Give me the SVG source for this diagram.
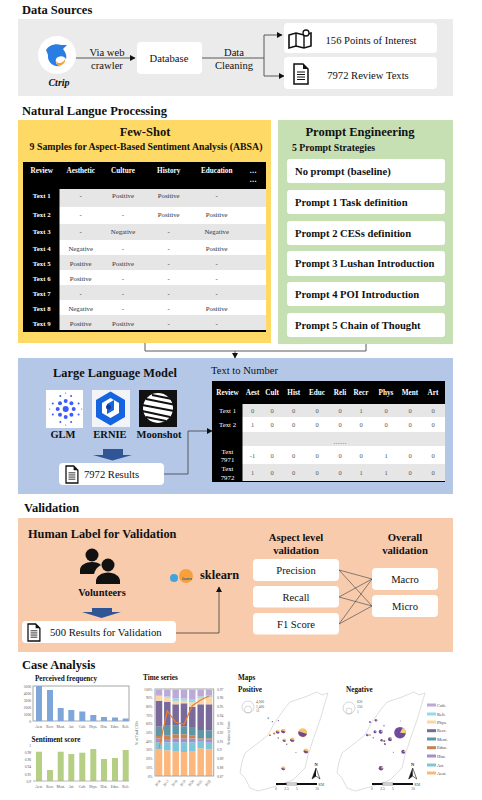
<svg xmlns="http://www.w3.org/2000/svg" xmlns:xlink="http://www.w3.org/1999/xlink" width="482" height="800" viewBox="0 0 482 800">
<style>
text{font-family:"Liberation Serif","Times New Roman",serif;fill:#111}
.b{font-weight:bold}
.h{font-weight:bold;font-size:12.5px}
.m{text-anchor:middle}
.box{fill:#fff}
.t9{font-size:10.6px}
.pr{font-weight:bold;font-size:10.6px}
.th{font-weight:bold;font-size:7.2px;fill:#fff;text-anchor:middle}
.rh{font-size:6.8px;font-weight:bold;fill:#fff;text-anchor:middle}
.c{font-size:6.8px;fill:#333;text-anchor:middle}
.th2{font-weight:bold;font-size:7.2px;fill:#fff;text-anchor:middle}
.rh2{font-size:6.8px;fill:#fff;text-anchor:middle}
.n{font-size:6.5px;fill:#555;text-anchor:middle}
.ln{fill:none;stroke:#595959;stroke-width:1}
.lb{fill:none;stroke:#404040;stroke-width:.8}
.tk{font-size:3.6px;fill:#555}
.tkm{font-size:3.6px;fill:#555;text-anchor:middle}
.tke{font-size:3.6px;fill:#555;text-anchor:end}
.ct{font-weight:bold;font-size:7.2px}
.frame{fill:none;stroke:#a6a6a6;stroke-width:1}
.bl{fill:#7ea6d8}.gr{fill:#b5cf85}
.ae{fill:#fcb77c}.ar{fill:#7fc5d9}.hi{fill:#a58fc7}.ed{fill:#c8844f}.me{fill:#5f95a5}.re{fill:#7a6a9a}.ph{fill:#fcd5a5}.rl{fill:#9ad8e5}.cu{fill:#bcaad6}
.isl{fill:none;stroke:#d0d0d0;stroke-width:.7;stroke-linejoin:round}
.leg{font-size:4.5px;fill:#444}
.blk{fill:#2f5597}
.ic{fill:#111}
</style>
<defs>
<marker id="ah" markerWidth="6" markerHeight="6" refX="5" refY="3" orient="auto" markerUnits="userSpaceOnUse"><path d="M0,0L5.5,3L0,6Z" fill="#111"/></marker>
<g id="doc"><path d="M0,0H9L14,5V20H0Z" fill="#fff" stroke="#111" stroke-width="1.5"/><path d="M9,0V5H14Z" fill="#111"/><path d="M3,8H11M3,10.5H11M3,13H11M3,15.5H11" stroke="#111" stroke-width="1"/></g>
<g id="pp"><circle r="1" fill="#f8c26c"/><path d="M-.95,-.3A1,1 0 0 0 .95,.3Z" fill="#6a4a96"/></g>
<g id="pn"><circle r="1" fill="#6f4c9b"/><path d="M0,0L.5,-.87A1,1 0 0 1 1,.1Z" fill="#f8d07c"/></g>
<g id="isl"><path class="isl" d="M328,693L325,703L320,720L313,740L308,755L305,768L293,780L273,787L258,791L250,788L245,778L240,773L242,762L245,753L258,743L268,735L275,722L285,708L290,702L305,697L317,692L322,695Z"/></g>
<g id="scale"><rect x="0" y="-1" width="10.500" height="2" fill="#111"/><rect x="10.500" y="-1" width="10.500" height="2" fill="#fff" stroke="#111" stroke-width=".4"/><rect x="21" y="-1" width="20" height="2" fill="#111"/><text class="tkm" x="0" y="6">0</text><text class="tkm" x="10.500" y="6">2.5</text><text class="tkm" x="21" y="6">5</text><text class="tkm" x="41" y="6">10</text><text class="tk" x="42.500" y="1.500">KM</text></g>
<g id="north"><text class="tkm b" x="0" y="-7" style="font-size:4.500px;fill:#111">N</text><path d="M0,-5L-4,6L0,3L4,6Z" fill="#fff" stroke="#111" stroke-width=".6"/><path d="M0,-5L-4,6L0,3Z" fill="#111"/></g>
</defs>

<text class="h" x="22" y="14">Data Sources</text>
<rect x="18" y="19" width="435" height="77" fill="#ebebeb"/>
<text class="h" x="22" y="115">Natural Langue Processing</text>
<text class="h" x="24" y="512">Validation</text>
<text class="h" x="22" y="669">Case Analysis</text>

<rect x="18" y="120" width="253" height="223" fill="#ffd966"/>
<rect x="278" y="120" width="175" height="224" fill="#c6e0b4"/>
<rect x="18" y="358" width="435" height="136" fill="#b4c7e7"/>
<rect x="18" y="518" width="435" height="134" fill="#f8cbad"/>

<g id="connectors">
<path class="ln" d="M76,58H135" marker-end="url(#ah)"/>
<path class="ln" d="M202,58H264V35H282" marker-end="url(#ah)"/>
<path class="ln" d="M264,58V76H284" marker-end="url(#ah)"/>
<path class="ln" d="M145,343V351H366V344"/>
<path class="ln" d="M235,351V358" marker-end="url(#ah)"/>
<path class="lb" d="M164,474H188V431H212" marker-end="url(#ah)"/>
<path class="lb" d="M176,633H219V587" marker-end="url(#ah)"/>
<path class="lb" style="stroke-width:.6" d="M339,570L372,579M339,570L372,606M339,597L372,579M339,597L372,606M339,624L372,579M339,624L372,606"/>
</g>

<g id="ctrip">
<circle cx="57" cy="55" r="19" fill="#fff"/>
<path d="M46,50C49,45 56,43 61,45L67,45L63,49C66,53 67,56 66,59C63,55 58,56 56,59C55,63 57,66 61,66C53,68 47,61 48,55Z" fill="#2a7de1"/>
<path d="M56,61C58,64 63,64 65,59C66,63 61,67 57,65Z" fill="#f5a033"/>
<text class="b m" x="59" y="86" style="font-size:10px;font-style:italic">Ctrip</text>
</g>
<text class="m t9" x="107" y="56">Via web</text>
<text class="m t9" x="107" y="69">crawler</text>
<text class="m t9" x="234" y="56">Data</text>
<text class="m t9" x="234" y="69">Cleaning</text>
<g id="database"><rect class="box" x="137" y="42" width="65" height="32" rx="4"/><text class="m t9" x="169" y="62">Database</text></g>
<g id="poi"><rect class="box" x="284" y="23" width="153" height="30" rx="4"/>
<path d="M289,35L296,33L304,35L311,33V46L304,48L296,46L289,48Z" style="fill:none;stroke:#111;stroke-width:1.600"/><path d="M296,33V46M304,35V48" stroke="#111" stroke-width="1.400"/><circle cx="306" cy="33" r="3" fill="#fff" stroke="#111" stroke-width="1.300"/>
<text class="m t9" x="371" y="44">156 Points of Interest</text></g>
<g id="reviews"><rect class="box" x="284" y="57" width="153" height="32" rx="4"/><use xlink:href="#doc" href="#doc" x="294" y="64"/><text class="m t9" x="368" y="79">7972 Review Texts</text></g>

<g id="few-shot">
<text class="b m" x="145" y="136" style="font-size:12.500px">Few-Shot</text>
<text class="b m" x="146" y="150" style="font-size:9.800px">9 Samples for Aspect-Based Sentiment Analysis (ABSA)</text>
<rect x="23" y="162" width="243" height="170" fill="#000"/>
<rect x="59.500" y="189" width="206.500" height="18" fill="#e6e6e6"/>
<rect x="59.500" y="207" width="206.500" height="17" fill="#fff"/>
<rect x="59.500" y="224" width="206.500" height="16" fill="#e6e6e6"/>
<rect x="59.500" y="240" width="206.500" height="15" fill="#fff"/>
<rect x="59.500" y="255" width="206.500" height="15" fill="#e6e6e6"/>
<rect x="59.500" y="270" width="206.500" height="15" fill="#fff"/>
<rect x="59.500" y="285" width="206.500" height="15" fill="#e6e6e6"/>
<rect x="59.500" y="300" width="206.500" height="15" fill="#fff"/>
<rect x="59.500" y="315" width="206.500" height="15" fill="#e6e6e6"/>
<text class="th" x="41.700" y="173">Review</text><text class="th" x="80.700" y="173">Aesthetic</text><text class="th" x="123" y="173">Culture</text><text class="th" x="168.700" y="173">History</text><text class="th" x="216.700" y="173">Education</text><text class="th" x="253" y="173">…</text><text class="th" x="253" y="182">…</text>
<g id="rows1">
<text class="rh" x="41.700" y="198">Text 1</text><text class="c" x="80.700" y="198">-</text><text class="c" x="123" y="198">Positive</text><text class="c" x="168.700" y="198">Positive</text><text class="c" x="216.700" y="198">-</text>
<text class="rh" x="41.700" y="217">Text 2</text><text class="c" x="80.700" y="217">-</text><text class="c" x="123" y="217">-</text><text class="c" x="168.700" y="217">Positive</text><text class="c" x="216.700" y="217">Positive</text>
<text class="rh" x="41.700" y="234">Text 3</text><text class="c" x="80.700" y="234">-</text><text class="c" x="123" y="234">Negative</text><text class="c" x="168.700" y="234">-</text><text class="c" x="216.700" y="234">Negative</text>
<text class="rh" x="41.700" y="250.500">Text 4</text><text class="c" x="80.700" y="250.500">Negative</text><text class="c" x="123" y="250.500">-</text><text class="c" x="168.700" y="250.500">-</text><text class="c" x="216.700" y="250.500">Positive</text>
<text class="rh" x="41.700" y="265.500">Text 5</text><text class="c" x="80.700" y="265.500">Positive</text><text class="c" x="123" y="265.500">Positive</text><text class="c" x="168.700" y="265.500">-</text><text class="c" x="216.700" y="265.500">-</text>
<text class="rh" x="41.700" y="280.500">Text 6</text><text class="c" x="80.700" y="280.500">Positive</text><text class="c" x="123" y="280.500">-</text><text class="c" x="168.700" y="280.500">-</text><text class="c" x="216.700" y="280.500">-</text>
<text class="rh" x="41.700" y="295.500">Text 7</text><text class="c" x="80.700" y="295.500">-</text><text class="c" x="123" y="295.500">-</text><text class="c" x="168.700" y="295.500">-</text><text class="c" x="216.700" y="295.500">-</text>
<text class="rh" x="41.700" y="310.500">Text 8</text><text class="c" x="80.700" y="310.500">Negative</text><text class="c" x="123" y="310.500">-</text><text class="c" x="168.700" y="310.500">-</text><text class="c" x="216.700" y="310.500">Positive</text>
<text class="rh" x="41.700" y="325.500">Text 9</text><text class="c" x="80.700" y="325.500">Positive</text><text class="c" x="123" y="325.500">Positive</text><text class="c" x="168.700" y="325.500">-</text><text class="c" x="216.700" y="325.500">-</text>
</g>
</g>

<g id="prompt-engineering">
<text class="b m" x="360" y="136" style="font-size:12.500px">Prompt Engineering</text>
<text class="b" x="292" y="151" style="font-size:9.800px">5 Prompt Strategies</text>
<rect class="box" x="287" y="159" width="158" height="24" rx="3"/><text class="pr" x="295" y="175">No prompt (baseline)</text>
<rect class="box" x="287" y="190" width="158" height="24" rx="3"/><text class="pr" x="295" y="206">Prompt 1 Task definition</text>
<rect class="box" x="287" y="221" width="158" height="24" rx="3"/><text class="pr" x="295" y="236.500">Prompt 2 CESs definition</text>
<rect class="box" x="287" y="251" width="158" height="25" rx="3"/><text class="pr" x="295" y="267">Prompt 3 Lushan Introduction</text>
<rect class="box" x="287" y="282" width="158" height="24" rx="3"/><text class="pr" x="295" y="298">Prompt 4 POI Introduction</text>
<rect class="box" x="287" y="313" width="158" height="24" rx="3"/><text class="pr" x="295" y="329">Prompt 5 Chain of Thought</text>
</g>

<g id="llm">
<text class="b m" x="115" y="377" style="font-size:12.400px">Large Language Model</text>
<g id="glm-logo"><rect x="46" y="390" width="37" height="38" fill="#fff"/>
<g fill="#3d5afe"><circle cx="65.700" cy="409" r="3"/>
<circle cx="73.700" cy="409" r="2"/><circle cx="71.400" cy="414.700" r="2"/><circle cx="65.700" cy="417" r="2"/><circle cx="60" cy="414.700" r="2"/><circle cx="57.700" cy="409" r="2"/><circle cx="60" cy="403.300" r="2"/><circle cx="65.700" cy="401" r="2"/><circle cx="71.400" cy="403.300" r="2"/>
<circle cx="78.600" cy="414.400" r="1"/><circle cx="71.100" cy="421.900" r="1"/><circle cx="60.300" cy="421.900" r="1"/><circle cx="52.800" cy="414.400" r="1"/><circle cx="52.800" cy="403.600" r="1"/><circle cx="60.300" cy="396.100" r="1"/><circle cx="71.100" cy="396.100" r="1"/><circle cx="78.600" cy="403.600" r="1"/>
<circle cx="81.700" cy="409" r=".6"/><circle cx="65.700" cy="425" r=".6"/><circle cx="49.700" cy="409" r=".6"/><circle cx="65.700" cy="393" r=".6"/></g></g>
<g id="ernie-logo"><rect x="92" y="390" width="38" height="37" fill="#f2f4f8"/>
<path d="M110.500,391.500L125,400V417L110.500,425.500L96,417V400Z" fill="#1565e0"/>
<path d="M110.500,398L119,403V413L110.500,418L102,413V403Z" fill="#fff"/>
<path d="M107,404L114,400V410L107,414Z" fill="#1565e0"/><circle cx="108.500" cy="407" r="2.500" fill="#123a9c"/></g>
<g id="moonshot-logo"><rect x="139" y="390" width="38" height="37" fill="#111"/><circle cx="158" cy="408" r="15" fill="#fff"/>
<path d="M146,399L176,405M142,405L174,411M142,411L170,417M146,417L166,421M152,395L172,399" stroke="#111" stroke-width="1.800"/></g>
<text class="b m" x="63" y="438" style="font-size:10.500px">GLM</text>
<text class="b m" x="110" y="438" style="font-size:10.500px">ERNIE</text>
<text class="b m" x="159" y="438" style="font-size:10.500px">Moonshot</text>
<path class="blk" d="M103,449H123V455H132L112.500,460.500L93,455H103Z"/>
</g>
<g id="results-7972"><rect class="box" x="59" y="463" width="105" height="22" rx="4"/><use xlink:href="#doc" href="#doc" transform="translate(66,466) scale(.85)"/><text x="84" y="478" style="font-size:10.600px">7972 Results</text></g>

<g id="text-to-number">
<text x="211" y="374" style="font-size:10.600px">Text to Number</text>
<rect x="212" y="381" width="233" height="101" fill="#000"/>
<rect x="242.500" y="404" width="202.500" height="13" fill="#e6e6e6"/>
<rect x="242.500" y="417" width="202.500" height="15" fill="#fff"/>
<rect x="242.500" y="432" width="202.500" height="14" fill="#e6e6e6"/>
<rect x="242.500" y="446" width="202.500" height="18" fill="#fff"/>
<rect x="242.500" y="464" width="202.500" height="17" fill="#e6e6e6"/>
<text class="th2" x="227.500" y="395">Review</text><text class="th2" x="252.500" y="395">Aest</text><text class="th2" x="272" y="395">Cult</text><text class="th2" x="293.700" y="395">Hist</text><text class="th2" x="317" y="395">Educ</text><text class="th2" x="340" y="395">Reli</text><text class="th2" x="361" y="395">Recr</text><text class="th2" x="386" y="395">Phys</text><text class="th2" x="410" y="395">Ment</text><text class="th2" x="433" y="395">Art</text>
<text class="rh2" x="227.500" y="413">Text 1</text><text class="n" x="252.500" y="413">0</text><text class="n" x="272" y="413">0</text><text class="n" x="293.700" y="413">0</text><text class="n" x="317" y="413">0</text><text class="n" x="340" y="413">0</text><text class="n" x="361" y="413">1</text><text class="n" x="386" y="413">0</text><text class="n" x="410" y="413">0</text><text class="n" x="433" y="413">0</text>
<text class="rh2" x="227.500" y="427">Text 2</text><text class="n" x="252.500" y="427">1</text><text class="n" x="272" y="427">0</text><text class="n" x="293.700" y="427">0</text><text class="n" x="317" y="427">0</text><text class="n" x="340" y="427">0</text><text class="n" x="361" y="427">0</text><text class="n" x="386" y="427">0</text><text class="n" x="410" y="427">0</text><text class="n" x="433" y="427">0</text>
<text class="n" x="340" y="443.500">……</text>
<text class="rh2" x="227.500" y="453.500">Text</text><text class="rh2" x="227.500" y="462">7971</text><text class="n" x="252.500" y="458">-1</text><text class="n" x="272" y="458">0</text><text class="n" x="293.700" y="458">0</text><text class="n" x="317" y="458">0</text><text class="n" x="340" y="458">0</text><text class="n" x="361" y="458">0</text><text class="n" x="386" y="458">1</text><text class="n" x="410" y="458">0</text><text class="n" x="433" y="458">0</text>
<text class="rh2" x="227.500" y="471">Text</text><text class="rh2" x="227.500" y="479.500">7972</text><text class="n" x="252.500" y="475">1</text><text class="n" x="272" y="475">0</text><text class="n" x="293.700" y="475">0</text><text class="n" x="317" y="475">0</text><text class="n" x="340" y="475">0</text><text class="n" x="361" y="475">1</text><text class="n" x="386" y="475">1</text><text class="n" x="410" y="475">0</text><text class="n" x="433" y="475">0</text>
</g>

<g id="human-label">
<text class="b" x="28" y="538" style="font-size:12.300px">Human Label for Validation</text>
<g class="ic"><circle cx="92" cy="555" r="6.500"/><path d="M80,574V570C80,565 86,562 92,562C96,562 99,563 101,565C97,567 95,570 94,574Z"/><circle cx="108" cy="565" r="6.500"/><path d="M96,584V581C96,576 102,572.500 108,572.500C114,572.500 120,576 120,581V584Z"/></g>
<text class="b m" x="102" y="596" style="font-size:10.400px">Volunteers</text>
<path class="blk" d="M92,608H112V612H121L101.500,618L82,612H92Z"/>
</g>
<g id="results-500"><rect class="box" x="22" y="621" width="154" height="22" rx="4"/><use xlink:href="#doc" href="#doc" transform="translate(28,624) scale(.85)"/><text x="50" y="636" style="font-size:10.700px">500 Results for Validation</text></g>
<g id="sklearn"><circle cx="174" cy="578" r="4" fill="#3ea4d9"/><circle cx="186" cy="576" r="7" fill="#f7a13c"/><text class="m" x="187" y="580" style="font-size:4.500px;font-style:italic;font-weight:bold;fill:#2c5f88">learn</text><text class="b" x="200" y="579" style="font-size:12.400px">sklearn</text></g>
<g id="aspect-level">
<text class="b m" x="296" y="541" style="font-size:10.700px">Aspect level</text><text class="b m" x="296" y="554" style="font-size:10.700px">validation</text>
<rect class="box" x="253" y="559" width="86" height="22" rx="4"/><text class="m t9" x="296" y="574">Precision</text>
<rect class="box" x="253" y="586" width="86" height="21.500" rx="4"/><text class="m t9" x="296" y="601">Recall</text>
<rect class="box" x="253" y="613" width="86" height="21.500" rx="4"/><text class="m t9" x="296" y="628">F1 Score</text>
</g>
<g id="overall">
<text class="b m" x="405" y="541" style="font-size:10.700px">Overall</text><text class="b m" x="405" y="554" style="font-size:10.700px">validation</text>
<rect class="box" x="372" y="568" width="66" height="22" rx="4"/><text class="m t9" x="405" y="583">Macro</text>
<rect class="box" x="372" y="595" width="66" height="22" rx="4"/><text class="m t9" x="405" y="610">Micro</text>
</g>

<g id="perceived-frequency">
<text class="ct m" x="66" y="681">Perceived frequency</text>
<rect class="frame" x="33" y="686" width="96" height="35"/>
<text class="tke" x="31" y="687.500">5000</text><text class="tke" x="31" y="694.500">4000</text><text class="tke" x="31" y="701.500">3000</text><text class="tke" x="31" y="708.500">2000</text><text class="tke" x="31" y="715.500">1000</text><text class="tke" x="31" y="722.500">0</text>
<rect class="bl" x="36" y="686" width="6" height="35"/><rect class="bl" x="47" y="690" width="6" height="31"/><rect class="bl" x="57.700" y="708" width="6" height="13"/><rect class="bl" x="68.300" y="710" width="6" height="11"/><rect class="bl" x="79.300" y="711.500" width="6" height="9.500"/><rect class="bl" x="90.300" y="715" width="6" height="6"/><rect class="bl" x="101" y="717" width="6" height="4"/><rect class="bl" x="112" y="717.500" width="6" height="3.500"/><rect class="bl" x="122.700" y="718.500" width="6" height="2.500"/>
<text class="tkm" x="39" y="728">Aest.</text><text class="tkm" x="50" y="728">Recr.</text><text class="tkm" x="60.700" y="728">Ment.</text><text class="tkm" x="71.300" y="728">Art.</text><text class="tkm" x="82.300" y="728">Cult.</text><text class="tkm" x="93.300" y="728">Phys.</text><text class="tkm" x="104" y="728">Hist.</text><text class="tkm" x="115" y="728">Educ.</text><text class="tkm" x="125.700" y="728">Reli.</text>
</g>
<g id="sentiment-score">
<text class="ct m" x="56" y="742">Sentiment score</text>
<rect class="gr" x="36" y="751.700" width="6" height="29.300"/><rect class="gr" x="47" y="770" width="6" height="11"/><rect class="gr" x="57.700" y="751.700" width="6" height="29.300"/><rect class="gr" x="68.300" y="754" width="6" height="27"/><rect class="gr" x="79.300" y="752.700" width="6" height="28.300"/><rect class="gr" x="90.300" y="749" width="6" height="32"/><rect class="gr" x="101" y="759" width="6" height="22"/><rect class="gr" x="112" y="758" width="6" height="23"/><rect class="gr" x="122.700" y="750" width="6" height="31"/>
<path d="M33,781H129" stroke="#a6a6a6" stroke-width=".8"/>
<text class="tke" x="31" y="746.500">1</text><text class="tke" x="31" y="753.500">0.98</text><text class="tke" x="31" y="761">0.96</text><text class="tke" x="31" y="768">0.94</text><text class="tke" x="31" y="775.500">0.92</text><text class="tke" x="31" y="782.500">0.9</text>
<text class="tkm" x="39" y="788">Aest.</text><text class="tkm" x="50" y="788">Recr.</text><text class="tkm" x="60.700" y="788">Ment.</text><text class="tkm" x="71.300" y="788">Art.</text><text class="tkm" x="82.300" y="788">Cult.</text><text class="tkm" x="93.300" y="788">Phys.</text><text class="tkm" x="104" y="788">Hist.</text><text class="tkm" x="115" y="788">Educ.</text><text class="tkm" x="125.700" y="788">Reli.</text>
</g>

<g id="time-series">
<text class="ct" x="143" y="680">Time series</text>
<g transform="translate(155.750,0)">
<rect class="ae" y="749" width="6.500" height="27"/><rect class="ar" y="742.300" width="6.500" height="6.700"/><rect class="hi" y="738.300" width="6.500" height="4"/><rect class="ed" y="736" width="6.500" height="2.300"/><rect class="me" y="726.700" width="6.500" height="9.300"/><rect class="re" y="700.700" width="6.500" height="26"/><rect class="ph" y="696" width="6.500" height="4.700"/><rect class="rl" y="695" width="6.500" height="1"/><rect class="cu" y="689.700" width="6.500" height="5.300"/></g>
<g transform="translate(164.050,0)">
<rect class="ae" y="750.300" width="6.500" height="25.700"/><rect class="ar" y="742.300" width="6.500" height="8"/><rect class="hi" y="739" width="6.500" height="3.300"/><rect class="ed" y="735.700" width="6.500" height="3.300"/><rect class="me" y="725" width="6.500" height="10.700"/><rect class="re" y="701.700" width="6.500" height="23.300"/><rect class="ph" y="697.700" width="6.500" height="4"/><rect class="rl" y="696.300" width="6.500" height="1.400"/><rect class="cu" y="689.700" width="6.500" height="6.600"/></g>
<g transform="translate(172.450,0)">
<rect class="ae" y="751" width="6.500" height="25"/><rect class="ar" y="742.300" width="6.500" height="8.700"/><rect class="hi" y="738.300" width="6.500" height="4"/><rect class="ed" y="734.300" width="6.500" height="4"/><rect class="me" y="725.700" width="6.500" height="8.600"/><rect class="re" y="704.300" width="6.500" height="21.400"/><rect class="ph" y="701" width="6.500" height="3.300"/><rect class="rl" y="698.300" width="6.500" height="2.700"/><rect class="cu" y="689.700" width="6.500" height="8.600"/></g>
<g transform="translate(180.750,0)">
<rect class="ae" y="752" width="6.500" height="24"/><rect class="ar" y="742.300" width="6.500" height="9.700"/><rect class="hi" y="738.300" width="6.500" height="4"/><rect class="ed" y="734.300" width="6.500" height="4"/><rect class="me" y="726.300" width="6.500" height="8"/><rect class="re" y="703.300" width="6.500" height="23"/><rect class="ph" y="700.700" width="6.500" height="2.600"/><rect class="rl" y="698.300" width="6.500" height="2.400"/><rect class="cu" y="689.700" width="6.500" height="8.600"/></g>
<g transform="translate(189.050,0)">
<rect class="ae" y="751" width="6.500" height="25"/><rect class="ar" y="742.300" width="6.500" height="8.700"/><rect class="hi" y="738.300" width="6.500" height="4"/><rect class="ed" y="735.700" width="6.500" height="2.600"/><rect class="me" y="727" width="6.500" height="8.700"/><rect class="re" y="706.700" width="6.500" height="20.300"/><rect class="ph" y="702.300" width="6.500" height="4.400"/><rect class="rl" y="699.700" width="6.500" height="2.600"/><rect class="cu" y="689.700" width="6.500" height="10"/></g>
<g transform="translate(197.450,0)">
<rect class="ae" y="748.300" width="6.500" height="27.700"/><rect class="ar" y="741.700" width="6.500" height="6.600"/><rect class="hi" y="739.700" width="6.500" height="2"/><rect class="ed" y="738.300" width="6.500" height="1.400"/><rect class="me" y="730" width="6.500" height="8.300"/><rect class="re" y="704.300" width="6.500" height="25.700"/><rect class="ph" y="698.300" width="6.500" height="6"/><rect class="rl" y="696.300" width="6.500" height="2"/><rect class="cu" y="689.700" width="6.500" height="6.600"/></g>
<g transform="translate(205.750,0)">
<rect class="ae" y="749.300" width="6.500" height="26.700"/><rect class="ar" y="742.700" width="6.500" height="6.600"/><rect class="hi" y="739.700" width="6.500" height="3"/><rect class="ed" y="738.300" width="6.500" height="1.400"/><rect class="me" y="730.300" width="6.500" height="8"/><rect class="re" y="704.300" width="6.500" height="26"/><rect class="ph" y="697" width="6.500" height="7.300"/><rect class="rl" y="695.700" width="6.500" height="1.300"/><rect class="cu" y="689.700" width="6.500" height="6"/></g>
<rect class="frame" x="155" y="689" width="58.700" height="87"/>
<path d="M159,748.300L167.300,711L175.700,722.300L184,724.300L192.300,705.700L200.700,700L209,696" fill="none" stroke="#ed7d31" stroke-width="1.200"/>
<text class="tke" x="152.500" y="690.500">100%</text><text class="tke" x="152.500" y="699">90%</text><text class="tke" x="152.500" y="707.900">80%</text><text class="tke" x="152.500" y="716.600">70%</text><text class="tke" x="152.500" y="725.300">60%</text><text class="tke" x="152.500" y="734">50%</text><text class="tke" x="152.500" y="742.700">40%</text><text class="tke" x="152.500" y="751.400">30%</text><text class="tke" x="152.500" y="760.100">20%</text><text class="tke" x="152.500" y="768.800">10%</text><text class="tke" x="152.500" y="777.500">0%</text>
<text class="tk" x="217" y="690.500">0.97</text><text class="tk" x="217" y="699">0.96</text><text class="tk" x="217" y="707.900">0.95</text><text class="tk" x="217" y="716.600">0.94</text><text class="tk" x="217" y="725.300">0.93</text><text class="tk" x="217" y="734">0.92</text><text class="tk" x="217" y="742.700">0.91</text><text class="tk" x="217" y="751.400">0.9</text><text class="tk" x="217" y="760.100">0.89</text><text class="tk" x="217" y="768.800">0.88</text><text class="tk" x="217" y="777.500">0.87</text>
<text class="tkm" transform="translate(138,733) rotate(-90)">% of Total CESs</text>
<text class="tkm" transform="translate(230,733) rotate(-90)">Sentiment Score</text>
<text class="tke" transform="translate(161,781) rotate(-50)">2016</text><text class="tke" transform="translate(169.300,781) rotate(-50)">2017</text><text class="tke" transform="translate(177.700,781) rotate(-50)">2018</text><text class="tke" transform="translate(186,781) rotate(-50)">2019</text><text class="tke" transform="translate(194.300,781) rotate(-50)">2020</text><text class="tke" transform="translate(202.700,781) rotate(-50)">2021</text><text class="tke" transform="translate(211,781) rotate(-50)">2022</text>
</g>

<g id="map-positive">
<text class="ct" x="238" y="680">Maps</text>
<text class="ct" x="238" y="692">Positive</text>
<circle cx="248" cy="707" r="6" fill="none" stroke="#bbb" stroke-width=".6"/><circle cx="248" cy="709.500" r="3.500" fill="none" stroke="#bbb" stroke-width=".6"/>
<text class="tk" x="256" y="703">4,000</text><text class="tk" x="256" y="707.500">1,400</text><text class="tk" x="256" y="712">11</text>
<use xlink:href="#isl" href="#isl"/>
<use xlink:href="#pp" href="#pp" transform="translate(302.700,732.700) scale(4.500)"/>
<use xlink:href="#pp" href="#pp" transform="translate(306,751) scale(2.500)"/>
<use xlink:href="#pp" href="#pp" transform="translate(292.300,739.700) scale(2.300)"/>
<use xlink:href="#pp" href="#pp" transform="translate(283.300,768.300) scale(2)"/>
<use xlink:href="#pp" href="#pp" transform="translate(283.300,731) scale(2.300)"/>
<use xlink:href="#pp" href="#pp" transform="translate(277.700,731.700) scale(2)"/>
<use xlink:href="#pp" href="#pp" transform="translate(284.300,740.300) scale(1.700)"/>
<use xlink:href="#pp" href="#pp" transform="translate(274.300,733.300) scale(1.100)"/>
<use xlink:href="#pp" href="#pp" transform="translate(270,735) scale(1)"/>
<use xlink:href="#pp" href="#pp" transform="translate(278.300,737.700) scale(.8)"/>
<use xlink:href="#pp" href="#pp" transform="translate(286.700,744) scale(.8)"/>
<use xlink:href="#pp" href="#pp" transform="translate(296,752.300) scale(.6)"/>
<circle cx="268.300" cy="718.300" r="1" fill="#8ab0d8"/><circle cx="278.300" cy="720.700" r=".6" fill="#6a4a96"/><circle cx="272.300" cy="721.700" r=".6" fill="#6a4a96"/>
<use xlink:href="#scale" href="#scale" x="276" y="784"/>
<use xlink:href="#north" href="#north" x="316" y="773"/>
</g>
<g id="map-negative">
<text class="ct" x="346" y="692">Negative</text>
<circle cx="349" cy="708" r="6" fill="none" stroke="#bbb" stroke-width=".6"/><circle cx="349" cy="711" r="3" fill="none" stroke="#bbb" stroke-width=".6"/>
<text class="tk" x="357" y="703">630</text><text class="tk" x="357" y="708">150</text><text class="tk" x="357" y="713">1</text>
<use xlink:href="#isl" href="#isl" x="97"/>
<use xlink:href="#pn" href="#pn" transform="translate(400,732.700) scale(5.800)"/>
<use xlink:href="#pn" href="#pn" transform="translate(403.300,751.700) scale(2)"/>
<use xlink:href="#pn" href="#pn" transform="translate(381,768.300) scale(2.300)"/>
<use xlink:href="#pn" href="#pn" transform="translate(390,739.300) scale(2)"/>
<use xlink:href="#pn" href="#pn" transform="translate(380.700,731.700) scale(2)"/>
<use xlink:href="#pn" href="#pn" transform="translate(375,731.700) scale(1.500)"/>
<use xlink:href="#pn" href="#pn" transform="translate(381.700,740.300) scale(1.300)"/>
<use xlink:href="#pn" href="#pn" transform="translate(385,744) scale(1)"/>
<use xlink:href="#pn" href="#pn" transform="translate(384.300,741) scale(1)"/>
<use xlink:href="#pn" href="#pn" transform="translate(367.300,735) scale(1.300)"/>
<use xlink:href="#pn" href="#pn" transform="translate(370,735) scale(.7)"/>
<use xlink:href="#pn" href="#pn" transform="translate(373.300,737.700) scale(.7)"/>
<use xlink:href="#pn" href="#pn" transform="translate(376,720.300) scale(1.300)"/>
<use xlink:href="#pn" href="#pn" transform="translate(370,722) scale(1)"/>
<use xlink:href="#pn" href="#pn" transform="translate(384,725.700) scale(.7)"/>
<use xlink:href="#pn" href="#pn" transform="translate(393.300,752.300) scale(.5)"/>
<use xlink:href="#pn" href="#pn" transform="translate(400.700,721) scale(.4)"/>
<use xlink:href="#scale" href="#scale" x="372" y="784"/>
<use xlink:href="#north" href="#north" x="412.700" y="773"/>
</g>
<g id="legend">
<rect class="cu" x="427" y="703.500" width="9" height="3"/><text class="leg" x="437" y="706.500">Cult.</text>
<rect class="rl" x="427" y="712.500" width="9" height="3"/><text class="leg" x="437" y="715.500">Reli.</text>
<rect class="ph" x="427" y="720.500" width="9" height="3"/><text class="leg" x="437" y="723.500">Phys.</text>
<rect class="re" x="427" y="729.200" width="9" height="3"/><text class="leg" x="437" y="732.200">Recr.</text>
<rect class="me" x="427" y="737.500" width="9" height="3"/><text class="leg" x="437" y="740.500">Ment.</text>
<rect class="ed" x="427" y="746.200" width="9" height="3"/><text class="leg" x="437" y="749.200">Educ.</text>
<rect class="hi" x="427" y="754.500" width="9" height="3"/><text class="leg" x="437" y="757.500">Hist.</text>
<rect class="ar" x="427" y="763.500" width="9" height="3"/><text class="leg" x="437" y="766.500">Art.</text>
<rect class="ae" x="427" y="771.500" width="9" height="3"/><text class="leg" x="437" y="774.500">Aest.</text>
</g>
</svg>
